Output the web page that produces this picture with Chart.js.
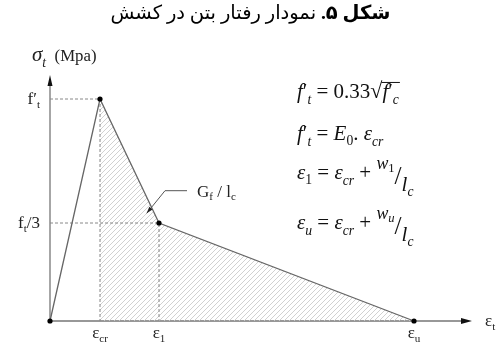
<!DOCTYPE html>
<html>
<head>
  <meta charset="UTF-8">
  <title>نمودار رفتار بتن در کشش</title>
  <script src="https://cdn.jsdelivr.net/npm/chart.js"></script>
  <style>
    body {
      margin: 0;
      background: #fff;
    }
    #wrap {
      position: relative;
      width: 501px;
      height: 342px;
    }
    #title {
      position: absolute;
      top: 1px;
      left: 0;
      width: 501px;
      text-align: center;
      direction: rtl;
      font-family: "Liberation Serif", "DejaVu Sans", serif;
      font-size: 19.5px;
      color: #000;
    }
    canvas {
      position: absolute;
      top: 0;
      left: 0;
    }
  </style>
</head>
<body>
  <div id="wrap">
    <canvas id="chart" width="501" height="342"></canvas>
    <div id="title"><b>شکل ۵.</b> نمودار رفتار بتن در کشش</div>
  </div>

  <script>
    // schematic tension curve (arbitrary units)
    const strain = [0, 50, 109, 364];
    const stress = [0, 222, 98, 0];
    const xMax = 422;
    const yMax = 246;

    // labels as [text, style] runs
    const xTickLabels = [
      [['ε', 'n'], ['cr', 'sn']],
      [['ε', 'n'], ['1', 'sn']],
      [['ε', 'n'], ['u', 'sn']]
    ];
    const yTickLabels = [
      [['f′', 'n'], ['t', 'sn']],
      [['f', 'n'], ['t', 'sn'], ['/3', 'n']]
    ];
    const xAxisLabel = [['ε', 'n'], ['t', 'sn']];
    const yAxisLabel = [['σ', 'i'], ['t', 's'], ['  (Mpa)', 'm']];
    const areaLabel = [['G', 'n'], ['f', 'sn'], [' / l', 'n'], ['c', 'sn']];

    // area label leader line (data coords)
    const leader = { from: [96.7, 107.7], knee: [115, 130.3], to: [137, 130.3] };

    // equations
    const equations = [
      [['f', 'i'], ['′', 'n'], ['t', 's'], [' = 0.33', 'n'], ['√', 'r'], ['f', 'io'], ['′', 'no'], ['c', 'so']],
      [['f', 'i'], ['′', 'n'], ['t', 's'], [' = ', 'n'], ['E', 'i'], ['0', 'sn'], ['. ', 'n'], ['ε', 'i'], ['cr', 's']],
      [['ε', 'i'], ['1', 'sn'], [' = ', 'n'], ['ε', 'i'], ['cr', 's'], [' + ', 'n'], ['w', 'p'], ['1', 'q'], ['/', 'sl'], ['l', 'd'], ['c', 'dd']],
      [['ε', 'i'], ['u', 's'], [' = ', 'n'], ['ε', 'i'], ['cr', 's'], [' + ', 'n'], ['w', 'p'], ['u', 'qi'], ['/', 'sl'], ['l', 'd'], ['c', 'dd']]
    ];
    const eqBaselines = [98, 140, 179, 229];

    const SERIF = '"Liberation Serif", "DejaVu Serif", serif';

    function styleOf(k) {
      // [italic, scale, dy in em]
      const m = {
        n: [false, 1, 0], i: [true, 1, 0], r: [false, 1.05, 0], m: [false, 0.8, 0],
        s: [true, 0.65, 0.28], sn: [false, 0.65, 0.22],
        io: [true, 1, 0], no: [false, 1, 0], so: [true, 0.65, 0.28],
        p: [true, 0.85, -0.5], q: [false, 0.6, -0.35], qi: [true, 0.6, -0.35],
        sl: [false, 1.2, 0.22], d: [true, 1, 0.55], dd: [true, 0.65, 0.8]
      };
      return m[k];
    }

    function runWidth(ctx, parts, size) {
      let w = 0;
      parts.forEach(([t, k]) => {
        const s = styleOf(k);
        ctx.font = (s[0] ? 'italic ' : '') + size * s[1] + 'px ' + SERIF;
        w += ctx.measureText(t).width;
      });
      return w;
    }

    function drawRun(ctx, parts, x, y, size, align) {
      const w = runWidth(ctx, parts, size);
      let cx = x;
      if (align === 'center') cx = x - w / 2;
      if (align === 'right') cx = x - w;
      ctx.textAlign = 'left';
      let overStart = null;
      parts.forEach(([t, k]) => {
        const s = styleOf(k);
        ctx.font = (s[0] ? 'italic ' : '') + size * s[1] + 'px ' + SERIF;
        if (k.endsWith('o') && overStart === null) overStart = cx;
        ctx.fillText(t, cx, y + size * s[2]);
        cx += ctx.measureText(t).width;
      });
      if (overStart !== null) {
        ctx.beginPath();
        ctx.lineWidth = 1;
        ctx.moveTo(overStart - 1, y - size * 0.74);
        ctx.lineTo(cx + 1, y - size * 0.74);
        ctx.stroke();
      }
    }

    const ctx = document.getElementById('chart').getContext('2d');

    function hatch() {
      const c = document.createElement('canvas');
      c.width = 5; c.height = 5;
      const g = c.getContext('2d');
      g.strokeStyle = '#cccccc';
      g.lineWidth = 0.9;
      g.beginPath();
      g.moveTo(0, 5); g.lineTo(5, 0);
      g.moveTo(-1, 1); g.lineTo(1, -1);
      g.moveTo(4, 6); g.lineTo(6, 4);
      g.stroke();
      return ctx.createPattern(c, 'repeat');
    }

    const pts = strain.map((x, i) => ({ x: x, y: stress[i] }));
    const hatchPts = [{ x: strain[1], y: 0 }].concat(pts.slice(1));

    const axesPlugin = {
      id: 'axes',
      beforeDatasetsDraw(chart) {
        const c = chart.ctx, x = chart.scales.x, y = chart.scales.y;
        const x0 = x.getPixelForValue(0), y0 = y.getPixelForValue(0);
        const xe = x.getPixelForValue(xMax), ye = y.getPixelForValue(yMax);
        c.save();
        c.strokeStyle = '#777';
        c.lineWidth = 1.3;
        c.beginPath();
        c.moveTo(x0, y0); c.lineTo(xe - 6, y0);
        c.moveTo(x0, y0); c.lineTo(x0, ye + 6);
        c.stroke();
        c.fillStyle = '#111';
        c.beginPath();
        c.moveTo(xe, y0); c.lineTo(xe - 11, y0 - 3); c.lineTo(xe - 11, y0 + 3); c.closePath();
        c.moveTo(x0, ye); c.lineTo(x0 - 2.5, ye + 11); c.lineTo(x0 + 2.5, ye + 11); c.closePath();
        c.fill();
        c.restore();
      },
      afterDraw(chart) {
        const c = chart.ctx, x = chart.scales.x, y = chart.scales.y;
        c.save();
        c.fillStyle = '#222';
        c.strokeStyle = '#222';
        c.textBaseline = 'alphabetic';

        xTickLabels.forEach((lab, i) => {
          drawRun(c, lab, x.getPixelForValue(strain[i + 1]), 338, 17, 'center');
        });
        yTickLabels.forEach((lab, i) => {
          drawRun(c, lab, 40, y.getPixelForValue(stress[i + 1]) + 5, 17, 'right');
        });
        drawRun(c, xAxisLabel, x.getPixelForValue(xMax) + 13, y.getPixelForValue(0) + 5, 17, 'left');
        drawRun(c, yAxisLabel, 32, 61, 21, 'left');

        // area label + leader
        const px = p => [x.getPixelForValue(p[0]), y.getPixelForValue(p[1])];
        const a = px(leader.from), b = px(leader.knee), e = px(leader.to);
        c.strokeStyle = '#555';
        c.lineWidth = 1;
        c.beginPath();
        c.moveTo(e[0], e[1]); c.lineTo(b[0], b[1]); c.lineTo(a[0], a[1]);
        c.stroke();
        const ang = Math.atan2(a[1] - b[1], a[0] - b[0]);
        c.fillStyle = '#222';
        c.beginPath();
        c.moveTo(a[0], a[1]);
        c.lineTo(a[0] - 7 * Math.cos(ang - 0.3), a[1] - 7 * Math.sin(ang - 0.3));
        c.lineTo(a[0] - 7 * Math.cos(ang + 0.3), a[1] - 7 * Math.sin(ang + 0.3));
        c.closePath();
        c.fill();
        drawRun(c, areaLabel, e[0] + 10, e[1] + 6, 17, 'left');

        // equations
        c.fillStyle = '#111';
        c.strokeStyle = '#111';
        equations.forEach((eq, i) => drawRun(c, eq, 297, eqBaselines[i], 21, 'left'));
        c.restore();
      }
    };

    new Chart(ctx, {
      type: 'line',
      data: {
        datasets: [
          {
            data: pts,
            borderColor: '#666',
            borderWidth: 1.3,
            pointRadius: 2.6,
            pointBackgroundColor: '#000',
            pointBorderWidth: 0,
            fill: false,
            clip: false,
            order: 0
          },
          {
            data: [{ x: 0, y: stress[1] }, { x: strain[1], y: stress[1] }, { x: strain[1], y: 0 }],
            borderColor: '#888',
            borderWidth: 1,
            borderDash: [3, 2],
            pointRadius: 0,
            fill: false,
            clip: false,
            order: 1
          },
          {
            data: [{ x: 0, y: stress[2] }, { x: strain[2], y: stress[2] }, { x: strain[2], y: 0 }],
            borderColor: '#888',
            borderWidth: 1,
            borderDash: [3, 2],
            pointRadius: 0,
            fill: false,
            clip: false,
            order: 1
          },
          {
            data: hatchPts,
            borderWidth: 0,
            borderColor: 'rgba(0,0,0,0)',
            backgroundColor: hatch(),
            pointRadius: 0,
            fill: 'origin',
            order: 2
          }
        ]
      },
      options: {
        responsive: false,
        animation: false,
        layout: { padding: { left: 50, right: 29, top: 75, bottom: 21 } },
        scales: {
          x: { type: 'linear', min: 0, max: xMax, display: false },
          y: { min: 0, max: yMax, display: false }
        },
        plugins: {
          legend: { display: false },
          tooltip: { enabled: false }
        }
      },
      plugins: [axesPlugin]
    });
  </script>
</body>
</html>
